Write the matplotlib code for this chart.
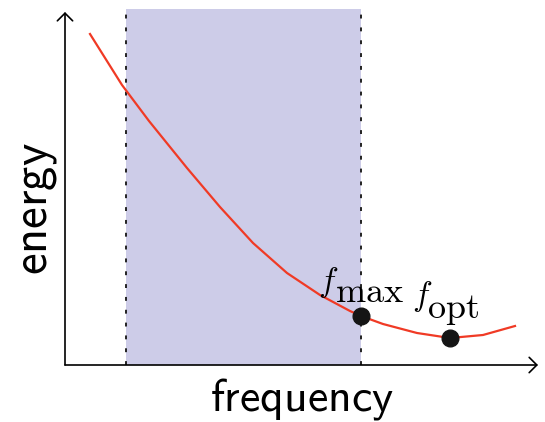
import numpy as np
import matplotlib.pyplot as plt

plt.rcParams['mathtext.fontset'] = 'cm'

# curve (frequency, energy in arbitrary units)
freq = [0.25, 0.57, 0.84, 1.22, 1.55, 1.88, 2.22, 2.55, 2.85, 2.96,
        3.18, 3.52, 3.85, 4.18, 4.50]
energy = [3.31, 2.80, 2.44, 1.97, 1.58, 1.22, 0.92, 0.70, 0.54, 0.49,
          0.41, 0.32, 0.27, 0.30, 0.39]

band = [0.61, 2.96]            # shaded frequency range
points_f = [2.96, 3.85]        # f_max, f_opt
points_e = [0.49, 0.27]
point_subs = ['max', 'opt']

fig = plt.figure(figsize=(5.45, 4.22), dpi=100)
ax = fig.add_axes([65 / 545, 57 / 422, 480 / 545, 356 / 422])
ax.set_xlim(0, 4.80)
ax.set_ylim(0, 3.56)
ax.axis('off')

ax.axvspan(band[0], band[1], color='#cdcce8', lw=0, zorder=0)
for b in band:
    ax.axvline(b, color='#222222', ls=(0, (2.0, 4.6)), lw=1.4, zorder=1)

ax.plot(freq, energy, color='#f03a25', lw=1.6, zorder=2)
ax.plot(points_f, points_e, 'o', color='#151515', ms=12, zorder=3)

# label pieces: italic f and a large roman subscript (offsets in px)
f_off = [(-43, 25), (-38, 33)]
sub_off = [(-26, 14), (-23, 20)]
for f, e, sub, fo, so in zip(points_f, points_e, point_subs, f_off, sub_off):
    ax.annotate(r'$f$', (f, e), xytext=(fo[0] * 0.72, fo[1] * 0.72),
                textcoords='offset points', ha='left', va='baseline', fontsize=24)
    ax.annotate(r'$\mathrm{%s}$' % sub, (f, e), xytext=(so[0] * 0.72, so[1] * 0.72),
                textcoords='offset points', ha='left', va='baseline', fontsize=26)

arrow = dict(arrowstyle='->,head_length=0.55,head_width=0.55', color='black', lw=1.2,
             shrinkA=0, shrinkB=0)
ax.annotate('', xy=(4.73, 0), xytext=(0, 0), arrowprops=arrow, annotation_clip=False)
ax.annotate('', xy=(0, 3.53), xytext=(0, 0), arrowprops=arrow, annotation_clip=False)

fig.text(302 / 545, 1 - 411 / 422, r'$\mathsf{frequency}$', ha='center', va='baseline',
         fontsize=33)
fig.text(35 / 545, 1 - 209 / 422, r'$\mathsf{energy}$', ha='center', va='center',
         fontsize=35, rotation=90)

fig.savefig('out.png', dpi=100)
